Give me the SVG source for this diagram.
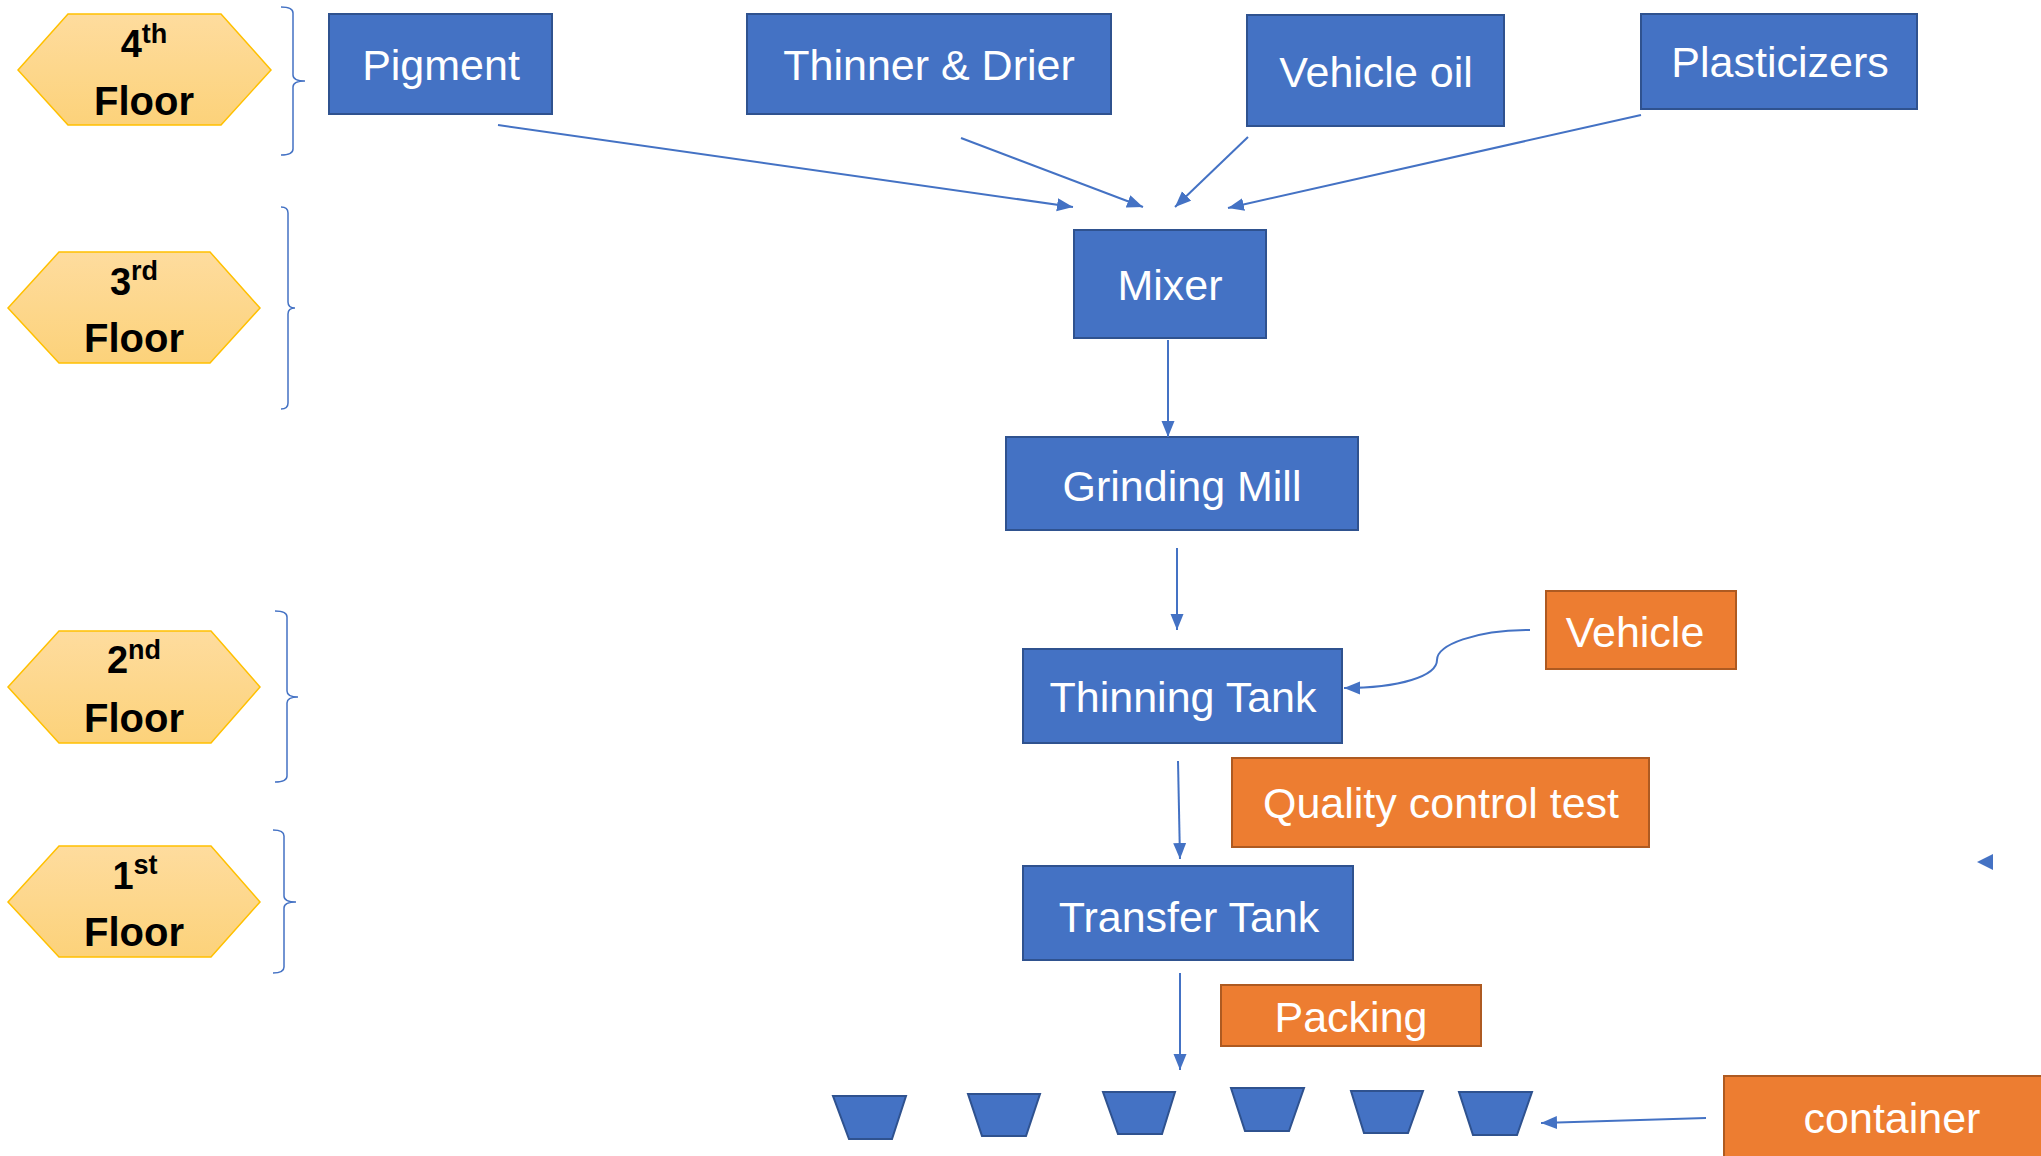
<svg xmlns="http://www.w3.org/2000/svg" width="2041" height="1156" viewBox="0 0 2041 1156">
<style>
.hex{fill:url(#gold);stroke:#FFC000;stroke-width:1.5}
.fl{font-family:"Liberation Sans",Arial,sans-serif;font-weight:bold;fill:#000;text-anchor:middle}
.br{fill:none;stroke:#4472C4;stroke-width:1.5}
.bx{fill:#4472C4;stroke:#2F528F;stroke-width:2}
.ob{fill:#ED7D31;stroke:#AE5A21;stroke-width:2}
.t{font-family:"Liberation Sans",Arial,sans-serif;font-size:43px;fill:#fff;text-anchor:middle}
.c{fill:none;stroke:#4472C4;stroke-width:2;marker-end:url(#ah)}
</style>
<defs>
<linearGradient id="gold" x1="0" y1="0" x2="0" y2="1">
<stop offset="0" stop-color="#FEDC9E"/>
<stop offset="1" stop-color="#FCD27A"/>
</linearGradient>
<marker id="ah" markerUnits="userSpaceOnUse" markerWidth="18" markerHeight="14" refX="16" refY="6.5" orient="auto">
<path d="M0,0 L16,6.5 L0,13 z" fill="#4472C4"/>
</marker>
</defs>
<rect width="2041" height="1156" fill="#fff"/>

<g id="floor4">
<polygon class="hex" points="18,70 68,14 221,14 271,70 221,125 68,125"/>
<text class="fl" x="144" y="57" font-size="38">4<tspan font-size="27" dy="-14">th</tspan></text>
<text class="fl" x="144" y="115" font-size="40">Floor</text>
<path class="br" d="M281,7 Q293,7 293,13 L293,75 Q293,81 305,81 Q293,81 293,87 L293,149 Q293,155 281,155"/>
</g>
<g id="floor3">
<polygon class="hex" points="8,308 59,252 210,252 260,308 210,363 59,363"/>
<text class="fl" x="134" y="295" font-size="38">3<tspan font-size="27" dy="-15">rd</tspan></text>
<text class="fl" x="134" y="352" font-size="40">Floor</text>
<path class="br" d="M281,207 Q288,207 288,213 L288,302 Q288,308 295,308 Q288,308 288,314 L288,403 Q288,409 281,409"/>
</g>
<g id="floor2">
<polygon class="hex" points="8,687 59,631 211,631 260,687 211,743 59,743"/>
<text class="fl" x="134" y="673" font-size="38">2<tspan font-size="27" dy="-14">nd</tspan></text>
<text class="fl" x="134" y="732" font-size="40">Floor</text>
<path class="br" d="M275,611 Q287,611 287,617 L287,691 Q287,697 298,697 Q287,697 287,703 L287,776 Q287,782 275,782"/>
</g>
<g id="floor1">
<polygon class="hex" points="8,902 59,846 211,846 260,902 211,957 59,957"/>
<text class="fl" x="135" y="889" font-size="38">1<tspan font-size="27" dy="-15">st</tspan></text>
<text class="fl" x="134" y="946" font-size="40">Floor</text>
<path class="br" d="M273,830 Q284,830 284,836 L284,896 Q284,902 296,902 Q284,902 284,908 L284,967 Q284,973 273,973"/>
</g>

<g id="pigment"><rect class="bx" x="329" y="14" width="223" height="100"/><text class="t" x="441" y="80">Pigment</text></g>
<g id="thinner"><rect class="bx" x="747" y="14" width="364" height="100"/><text class="t" x="929" y="80">Thinner &amp; Drier</text></g>
<g id="vehicleoil"><rect class="bx" x="1247" y="15" width="257" height="111"/><text class="t" x="1376" y="87">Vehicle oil</text></g>
<g id="plasticizers"><rect class="bx" x="1641" y="14" width="276" height="95"/><text class="t" x="1780" y="77">Plasticizers</text></g>
<g id="mixer"><rect class="bx" x="1074" y="230" width="192" height="108"/><text class="t" x="1170" y="300">Mixer</text></g>
<g id="grinding"><rect class="bx" x="1006" y="437" width="352" height="93"/><text class="t" x="1182" y="501">Grinding Mill</text></g>
<g id="thinning"><rect class="bx" x="1023" y="649" width="319" height="94"/><text class="t" x="1183" y="712">Thinning Tank</text></g>
<g id="vehicle"><rect class="ob" x="1546" y="591" width="190" height="78"/><text class="t" x="1635" y="647">Vehicle</text></g>
<g id="qc"><rect class="ob" x="1232" y="758" width="417" height="89"/><text class="t" x="1441" y="818">Quality control test</text></g>
<g id="transfer"><rect class="bx" x="1023" y="866" width="330" height="94"/><text class="t" x="1189" y="932">Transfer Tank</text></g>
<g id="packing"><rect class="ob" x="1221" y="985" width="260" height="61"/><text class="t" x="1351" y="1032">Packing</text></g>
<g id="containerbox"><rect class="ob" x="1724" y="1076" width="340" height="100"/><text class="t" x="1892" y="1133">container</text></g>
<g id="containers">
<polygon class="bx" points="833,1096 906,1096 892,1139 849,1139"/>
<polygon class="bx" points="968,1094 1040,1094 1026,1136 982,1136"/>
<polygon class="bx" points="1103,1092 1175,1092 1162,1134 1118,1134"/>
<polygon class="bx" points="1231,1088 1304,1088 1289,1131 1245,1131"/>
<polygon class="bx" points="1351,1091 1423,1091 1408,1133 1364,1133"/>
<polygon class="bx" points="1459,1092 1532,1092 1517,1135 1473,1135"/>
</g>

<g id="connectors">
<line class="c" x1="498" y1="125" x2="1073" y2="207"/>
<line class="c" x1="961" y1="138" x2="1143" y2="207"/>
<line class="c" x1="1248" y1="137" x2="1175" y2="207"/>
<line class="c" x1="1641" y1="115" x2="1228" y2="208"/>
<line class="c" x1="1168" y1="340" x2="1168" y2="437"/>
<line class="c" x1="1177" y1="548" x2="1177" y2="630"/>
<path class="c" d="M1530,630 C1475,630 1437,645 1437,660 C1437,676 1400,688 1344,688"/>
<line class="c" x1="1178" y1="761" x2="1180" y2="859"/>
<line class="c" x1="1180" y1="973" x2="1180" y2="1070"/>
<line class="c" x1="1706" y1="1118" x2="1541" y2="1123"/>
<path d="M1977,862 L1993,854 L1993,870 z" fill="#4472C4"/>
</g>
</svg>
